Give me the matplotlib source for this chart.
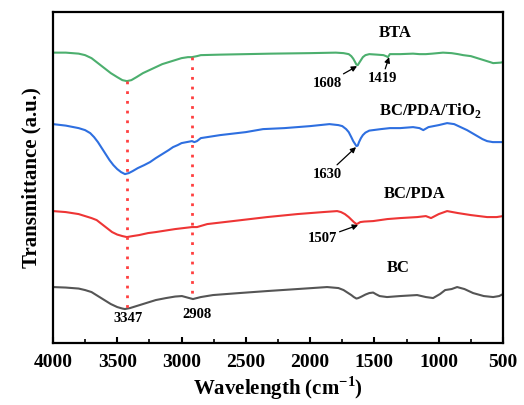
import matplotlib
matplotlib.use("Agg")
import matplotlib.pyplot as plt
from matplotlib.ticker import MultipleLocator

plt.rcParams['font.family'] = ['Liberation Serif', 'DejaVu Serif']
plt.rcParams['font.weight'] = 'bold'
plt.rcParams['mathtext.fontset'] = 'custom'
plt.rcParams['mathtext.rm'] = 'Liberation Serif:bold'
plt.rcParams['mathtext.bf'] = 'Liberation Serif:bold'

# ---- data (wavenumber cm-1, transmittance a.u. with vertical offsets) ----
bta_x = [4000, 3900, 3800, 3750, 3700, 3650, 3600, 3550, 3500, 3460, 3425, 3390, 3350, 3300, 3250,
         3200, 3150, 3100, 3050, 3000, 2950, 2919, 2880, 2850, 2700, 2500, 2300, 2000, 1800, 1740,
         1700, 1680, 1665, 1650, 1640, 1630, 1620, 1605, 1590, 1570, 1540, 1480, 1430, 1410, 1395,
         1380, 1300, 1200, 1150, 1100, 1050, 967, 900, 850, 810, 750, 700, 650, 600, 577, 520, 500]
bta_y = [290.5, 290.5, 289.5, 288, 285, 280, 275, 270, 266, 263, 262, 263, 266, 270, 273,
         276, 279, 281, 283, 285, 286, 286, 287, 288, 288.5, 289, 289.5, 290, 290.5, 290,
         289, 287, 284.5, 281, 278.5, 278, 280, 283, 286, 288, 289, 288.5, 288, 287, 286,
         289, 289, 289.5, 289, 289, 289.5, 290.5, 290, 289, 288, 287, 285, 283, 281, 280, 280.5, 281]

tio2_x = [4000, 3900, 3800, 3750, 3710, 3680, 3650, 3620, 3590, 3560, 3530, 3500, 3470, 3440, 3410,
          3380, 3340, 3290, 3245, 3200, 3150, 3100, 3066, 3030, 3000, 2960, 2919, 2900, 2880, 2850,
          2700, 2500, 2366, 2200, 2000, 1850, 1780, 1750, 1720, 1700, 1680, 1665, 1650, 1640, 1630,
          1620, 1605, 1590, 1570, 1540, 1450, 1380, 1300, 1200, 1150, 1120, 1080, 1000, 935, 880,
          830, 780, 740, 700, 660, 624, 580, 540, 500]
tio2_y = [219, 217.5, 215, 213, 210, 206, 201, 195, 189, 183, 178, 174, 171, 169, 170,
          172, 175, 178, 181, 185, 189, 193, 196, 198, 200, 201, 202, 201, 202, 205,
          208, 211, 214, 215, 217, 219, 218, 217, 214, 211, 206, 202, 199, 197, 197.5,
          201, 205, 208, 210.5, 212.5, 214, 215, 215, 216, 215, 213, 216, 218, 220, 219,
          216, 213, 210, 207, 204, 202, 201, 201, 201]

pda_x = [4000, 3900, 3800, 3750, 3700, 3660, 3620, 3580, 3540, 3500, 3460, 3425, 3380, 3330, 3260,
         3200, 3050, 2919, 2880, 2800, 2600, 2335, 2100, 1900, 1790, 1760, 1730, 1700, 1680, 1660,
         1640, 1630, 1610, 1580, 1510, 1400, 1300, 1168, 1100, 1060, 1000, 935, 850, 750, 624,
         550, 500]
pda_y = [132, 131, 129, 127, 125, 123, 119, 115, 111, 108.5, 107, 106, 107, 108, 110,
         111, 114, 116, 116, 119, 122, 126, 129, 131, 132, 131, 129, 126, 123.5, 121,
         119, 119.5, 121, 121.5, 122, 124, 125, 126, 127, 125, 129, 132, 130, 128, 126,
         126, 127]

bc_x = [4000, 3900, 3800, 3750, 3700, 3650, 3600, 3550, 3500, 3460, 3440, 3400, 3350, 3300, 3250,
        3200, 3120, 3050, 2997, 2940, 2911, 2850, 2755, 2550, 2335, 2100, 1868, 1780, 1740, 1710,
        1680, 1660, 1640, 1625, 1600, 1570, 1540, 1510, 1490, 1460, 1402, 1300, 1168, 1100, 1044,
        990, 950, 900, 857, 800, 733, 650, 577, 530, 500]
bc_y = [56, 55.5, 54.5, 53, 51, 47, 43, 39, 36, 34.5, 34, 35, 37, 39, 41,
        43, 45, 46.5, 47, 45, 44, 46, 48, 50, 52, 54, 56, 55, 53, 50.5,
        48, 46, 44.5, 45, 46.5, 48.5, 50, 50.5, 49, 47, 46, 47, 48, 46, 45,
        49, 53, 54, 56, 54, 50, 47, 46, 47, 49]

series_names = ['BTA', r'BC/PDA/TiO$_{2}$', 'BC/PDA', 'BC']
colors = ['#4caf6e', '#2e6fe0', '#ee3535', '#555555']

fig = plt.figure(figsize=(5.24, 4.05), dpi=100)
ax = fig.add_axes([0.101, 0.153, 0.859, 0.817])

ax.plot(bta_x, bta_y, color=colors[0], lw=1.5)
ax.plot(tio2_x, tio2_y, color=colors[1], lw=1.5)
ax.plot(pda_x, pda_y, color=colors[2], lw=1.5)
ax.plot(bc_x, bc_y, color=colors[3], lw=1.5)

# dotted reference lines
ax.plot([3425, 3425], [262, 34], color='#ff4040', ls=(0, (1, 2.5)), lw=2)
ax.plot([2919, 2919], [286, 44], color='#ff4040', ls=(0, (1, 2.5)), lw=2)

# series labels
ax.text(1339, 310, series_names[0], ha='center', va='center', fontsize=12, fontweight='bold')
ax.text(1067, 233, series_names[1], ha='center', va='center', fontsize=12, fontweight='bold')
ax.text(1184, 149, series_names[2], ha='center', va='center', fontsize=12, fontweight='bold')
ax.text(1316, 75, series_names[3], ha='center', va='center', fontsize=12, fontweight='bold')

# peak annotations
ann = dict(arrowstyle='-|>', color='black', lw=0.9, mutation_scale=8, shrinkA=0, shrinkB=0)
ax.annotate('1608', xy=(1635, 277), xytext=(1868, 260), ha='center', va='center',
            fontsize=10.5, fontweight='bold', arrowprops=ann)
ax.annotate('1419', xy=(1386, 286), xytext=(1440, 265), ha='center', va='center',
            fontsize=10.5, fontweight='bold', arrowprops=ann)
ax.annotate('1630', xy=(1643, 196), xytext=(1868, 169), ha='center', va='center',
            fontsize=10.5, fontweight='bold', arrowprops=ann)
ax.annotate('1507', xy=(1627, 118), xytext=(1907, 105), ha='center', va='center',
            fontsize=10.5, fontweight='bold', arrowprops=ann)
ax.text(3416, 25, '3347', ha='center', va='center', fontsize=10.5, fontweight='bold')
ax.text(2880, 29, '2908', ha='center', va='center', fontsize=10.5, fontweight='bold')

ax.set_xlim(4000, 500)
ax.set_ylim(0, 331)
ax.xaxis.set_major_locator(MultipleLocator(500))
ax.xaxis.set_minor_locator(MultipleLocator(250))
ax.set_yticks([])
ax.tick_params(axis='x', which='major', direction='in', length=4, width=1.5, labelsize=14, pad=8)
ax.tick_params(axis='x', which='minor', direction='in', length=3, width=1.2)
for lab in ax.get_xticklabels():
    lab.set_fontweight('bold')
for s in ax.spines.values():
    s.set_linewidth(1.6)

ax.set_xlabel(r'Wavelength (cm$^{-1}$)', fontsize=15, fontweight='bold', labelpad=2)
ax.set_ylabel('Transmittance (a.u.)', fontsize=15, fontweight='bold', labelpad=8)

fig.savefig('out.png', dpi=100)
